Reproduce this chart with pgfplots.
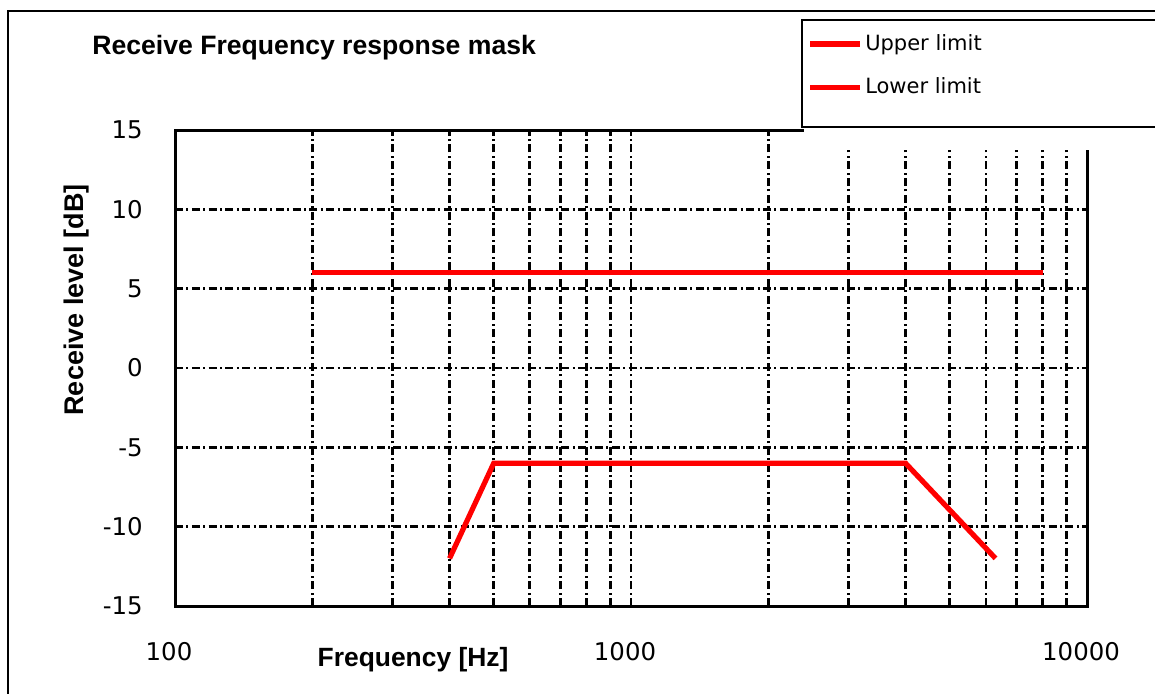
\documentclass[border=0pt]{standalone}
\usepackage{pgfplots}
\pgfplotsset{compat=1.18}
\usepackage{fontspec}
\setmainfont{DejaVu Sans}
\newfontfamily\arialfont{Liberation Sans}
\definecolor{maskred}{RGB}{255,0,0}
\begin{document}
\begin{tikzpicture}[x=0.5pt,y=0.5pt]
\useasboundingbox (0,0) rectangle (1155,693);
\begin{axis}[
  at={(87.5pt,43.5pt)}, anchor=south west,
  scale only axis, width=456pt, height=238pt,
  xmode=log, xmin=100, xmax=10000, ymin=-15, ymax=15,
  log basis x=10,
  xtick={100,1000,10000}, xticklabels={100,1000,10000},
  minor xtick={200,300,400,500,600,700,800,900,2000,3000,4000,5000,6000,7000,8000,9000},
  ytick={-15,-10,-5,0,5,10,15}, yticklabels={-15,-10,-5,0,5,10,15},
  major tick length=0pt, minor tick length=0pt,
  grid=both,
  major grid style={black, line width=1.35pt, dash pattern=on 4pt off 1.7pt on 1pt off 1.7pt},
  minor grid style={black, line width=1.35pt, dash pattern=on 4pt off 1.7pt on 1pt off 1.7pt},
  axis line style={black, line width=1.5pt},
  tick label style={font=\fontsize{12.2}{14}\selectfont},
  xticklabel style={anchor=base, inner sep=0pt, yshift=-27pt, xshift=-3pt},
  yticklabel style={anchor=east, inner sep=0pt, xshift=-16pt},
  title={Receive Frequency response mask},
  title style={at={(axis description cs:-0.091,1.134)}, anchor=base west, inner sep=0pt, font=\arialfont\bfseries\fontsize{13.3}{15}\selectfont},
  xlabel={Frequency [Hz]},
  xlabel style={at={(axis description cs:0.261,-0.128)}, anchor=base, inner sep=0pt, font=\arialfont\bfseries\fontsize{13.2}{15}\selectfont},
  ylabel={Receive level [dB]},
  ylabel style={at={(axis description cs:-0.108,0.643)}, anchor=center, rotate=0, inner sep=0pt, font=\arialfont\bfseries\fontsize{13.5}{15}\selectfont},
  legend style={at={(axis description cs:0.6935,1.206)}, anchor=north west, draw=none, fill=none, inner sep=0pt, row sep=10pt,
    font=\fontsize{10.5}{12}\selectfont, nodes={inner sep=1.1pt}},
  legend cell align=left,
  legend image code/.code={\draw[#1] (0pt,0pt) -- (25pt,0pt);},
]
\addplot[maskred, line width=2.6pt] coordinates {(200,6) (8000,6)};
\addlegendentry{Upper limit}
\addplot[maskred, line width=2.6pt] coordinates {(400,-12) (500,-6) (4000,-6) (6300,-12)};
\addlegendentry{Lower limit}
\end{axis}
\fill[white] (804,543) rectangle (1100,566);
\draw[line width=1pt] (802,566) rectangle (1175,673);
\draw[line width=1pt] (8,-10) -- (8,682) -- (1175,682);
\end{tikzpicture}
\end{document}
